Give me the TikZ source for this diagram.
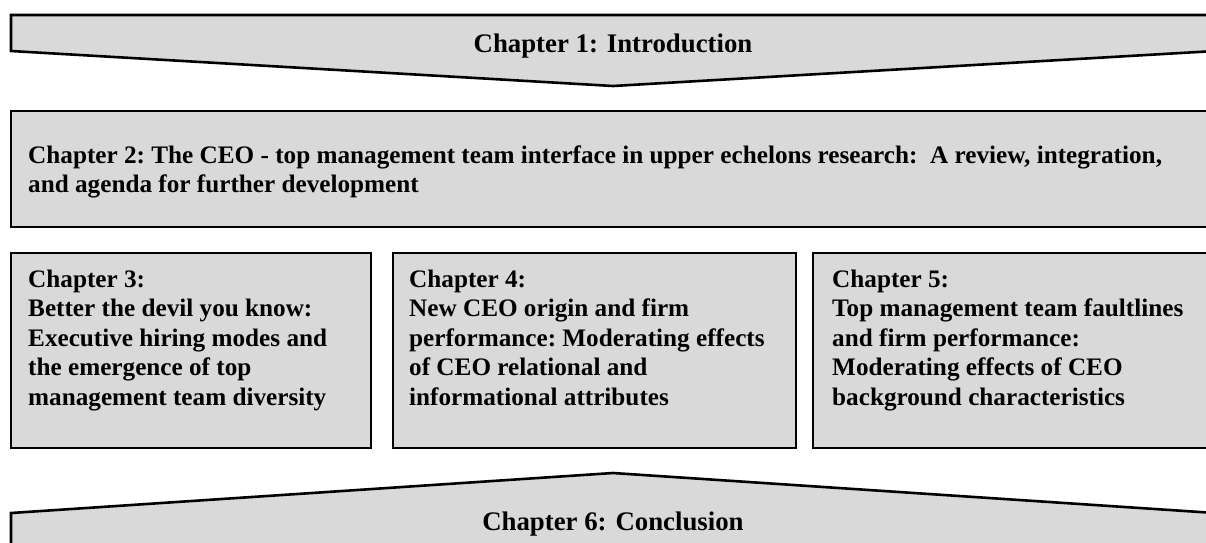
\documentclass[tikz,border=0pt]{standalone}
\usepackage{fontspec}
\setmainfont{Liberation Serif}
\definecolor{boxgray}{HTML}{D9D9D9}
\begin{document}
\begin{tikzpicture}[x=1pt,y=-1pt,
  chapshape/.style={draw=black, fill=boxgray, line width=2.6pt, line join=miter},
  txt/.style={inner sep=0pt, font=\fontsize{25.2}{29.5}\selectfont\bfseries\frenchspacing, align=left, anchor=north west},
  ctxt/.style={inner sep=0pt, font=\fontsize{26.8}{29.5}\selectfont\bfseries, anchor=base}]
\useasboundingbox (0,0) rectangle (1206,542);
\clip (0,0) rectangle (1206,542);
\fill[white] (0,0) rectangle (1206,542);
% Chapter 1 arrow (pointing down)
\draw[chapshape] (11,15) -- (1215,15) -- (1215,51) -- (613,86) -- (11,51) -- cycle;
\node[ctxt] (ch1) at (613,52) {Chapter 1: Introduction};
% Chapter 2 box
\draw[chapshape] (11,111) rectangle (1215,227);
\node[txt] (ch2) at (28,143) {\rule{0pt}{20pt}Chapter 2: The CEO - top management team interface in upper echelons research:\ \ A review, integration,\\and agenda for further development};
% Chapter 3-5 boxes
\draw[chapshape] (11,253) rectangle (371,448);
\node[txt] (ch3) at (28,267) {\rule{0pt}{20pt}Chapter 3:\\Better the devil you know:\\Executive hiring modes and\\the emergence of top\\management team diversity};
\draw[chapshape] (393,253) rectangle (796,448);
\node[txt] (ch4) at (409,267) {\rule{0pt}{20pt}Chapter 4:\\New CEO origin and firm\\performance: Moderating effects\\of CEO relational and\\informational attributes};
\draw[chapshape] (813,253) rectangle (1215,448);
\node[txt] (ch5) at (832,267) {\rule{0pt}{20pt}Chapter 5:\\Top management team faultlines\\and firm performance:\\Moderating effects of CEO\\background characteristics};
% Chapter 6 arrow (pointing up)
\draw[chapshape] (11,560) -- (11,513) -- (613,473) -- (1215,513) -- (1215,560) -- cycle;
\node[ctxt] (ch6) at (613,530) {Chapter 6: Conclusion};
\end{tikzpicture}
\end{document}
